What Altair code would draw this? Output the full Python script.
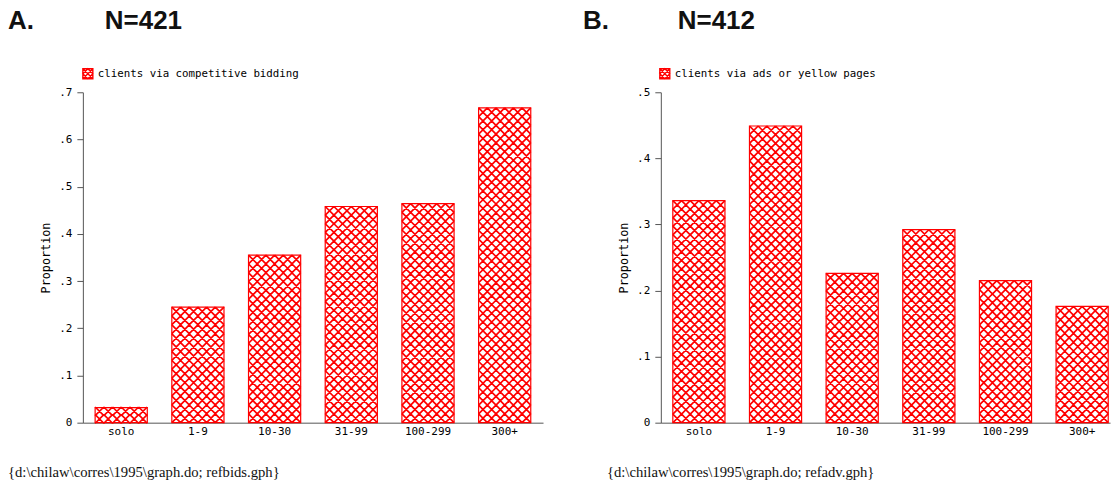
import altair as alt
import pandas as pd

# ---- data ----
categories = ["solo", "1-9", "10-30", "31-99", "100-299", "300+"]
bids = [0.032, 0.245, 0.355, 0.458, 0.464, 0.667]
ads = [0.336, 0.449, 0.226, 0.292, 0.215, 0.176]
series_names = ["clients via competitive bidding", "clients via ads or yellow pages"]
panel_letters = ["A.", "B."]
sample_sizes = [421, 412]
footnotes = [
    "{d:\\chilaw\\corres\\1995\\graph.do; refbids.gph}",
    "{d:\\chilaw\\corres\\1995\\graph.do; refadv.gph}",
]
y_max = [0.7, 0.5]
y_ticks = [[0, 0.1, 0.2, 0.3, 0.4, 0.5, 0.6, 0.7], [0, 0.1, 0.2, 0.3, 0.4, 0.5]]

# ---- style ----
H = 331
WIDTHS = [461, 450]
PAD_OUTER = [0.16, 0.09]
ALIGN = [0.5, 0.87]
BANDW = 52.2            # bar width in px
NCOL = 6                # hatch cells across a bar
CELL = BANDW / NCOL     # hatch cell size in px
LETTER_X = [-75, -78]
N_X = [22, 17]
FOOT_X = [-75, -54]
LEG_X = [0, -1]
MONO = "DejaVu Sans Mono"
AXIS_COL = "#555555"
RED = "#ff0000"
LABEL_EXPR = "datum.value == 0 ? '0' : substring(format(datum.value, '.1f'), 1)"


def row_path(n):
    # one row of n X-shaped cells spanning [-1, 1] horizontally
    h = 1.0 / n
    parts = []
    for j in range(n):
        x0 = -1 + 2.0 * j / n
        x1 = x0 + 2.0 / n
        parts.append(f"M{x0:.4f},{-h:.4f}L{x1:.4f},{h:.4f}M{x0:.4f},{h:.4f}L{x1:.4f},{-h:.4f}")
    return "".join(parts)


ROWPATH = row_path(NCOL)
LEGPATH = "M-1,-1L1,-1L1,1L-1,1ZM-1,-1L1,1M-1,1L1,-1M0,-1L1,0L0,1L-1,0Z"


def panel(i):
    vals = [bids, ads][i]
    w = WIDTHS[i]
    ppu = H / y_max[i]
    df = pd.DataFrame({"category": categories, "value": vals})
    xscale = alt.Scale(domain=categories, paddingInner=0.32,
                       paddingOuter=PAD_OUTER[i], align=ALIGN[i])
    yscale = alt.Scale(domain=[0, y_max[i]], nice=False, zero=True)
    xaxis = alt.Axis(title=None, ticks=False, labelAngle=0, labelPadding=3,
                     labelFont=MONO, labelFontSize=11, labelColor="black",
                     domainColor=AXIS_COL, grid=False)
    yaxis = alt.Axis(title="Proportion", values=y_ticks[i], labelExpr=LABEL_EXPR,
                     tickSize=6, tickColor=AXIS_COL, domainColor=AXIS_COL,
                     labelPadding=5, labelFont=MONO, labelFontSize=11,
                     labelColor="black", titleFont=MONO, titleFontSize=11.8,
                     titleFontWeight="normal", titleColor="black",
                     titlePadding=7, grid=False)

    base = alt.Chart(df)
    x_enc = alt.X("category:N", sort=categories, scale=xscale, axis=xaxis)
    y_enc = alt.Y("value:Q", scale=yscale, axis=yaxis)

    fill_bars = base.mark_bar(color="white", strokeWidth=0).encode(x=x_enc, y=y_enc)

    hatch = (
        base.transform_calculate(
            rows=f"max(1, round(datum.value * {ppu} / {CELL}))"
        )
        .transform_calculate(ks="sequence(0, datum.rows)")
        .transform_flatten(["ks"])
        .transform_calculate(yc="(datum.ks + 0.5) * datum.value / datum.rows")
        .mark_point(shape=ROWPATH, size=BANDW * BANDW, filled=False, color=RED,
                    strokeWidth=1.7, opacity=1)
        .encode(x=x_enc, y=alt.Y("yc:Q", scale=yscale, axis=yaxis))
    )

    outline = base.mark_bar(fillOpacity=0, stroke=RED, strokeWidth=1.2).encode(
        x=x_enc, y=y_enc)

    tdf = pd.DataFrame({"letter": [panel_letters[i]], "n": [f"N={sample_sizes[i]}"],
                        "foot": [footnotes[i]], "series": [series_names[i]]})
    tbase = alt.Chart(tdf)
    letter = tbase.mark_text(align="left", baseline="alphabetic", font="Liberation Sans",
                             fontSize=26, fontWeight="bold", color="#111111").encode(
        x=alt.value(LETTER_X[i]), y=alt.value(-63), text="letter:N")
    ntext = tbase.mark_text(align="left", baseline="alphabetic", font="Liberation Sans",
                            fontSize=26, fontWeight="bold", color="#111111").encode(
        x=alt.value(N_X[i]), y=alt.value(-63), text="n:N")
    foot = tbase.mark_text(align="left", baseline="alphabetic", font="Liberation Serif",
                           fontSize=14.7, color="#111111").encode(
        x=alt.value(FOOT_X[i]), y=alt.value(385), text="foot:N")
    leg_icon = tbase.mark_point(shape=LEGPATH, size=100, filled=False, fill="white",
                                fillOpacity=1, stroke=RED, strokeWidth=1.4,
                                opacity=1).encode(
        x=alt.value(LEG_X[i] + 5), y=alt.value(-18.5))
    leg_text = tbase.mark_text(align="left", baseline="middle", font=MONO,
                               fontSize=10.8, color="black").encode(
        x=alt.value(LEG_X[i] + 15), y=alt.value(-18.5), text="series:N")

    return alt.layer(fill_bars, hatch, outline, letter, ntext, foot,
                     leg_icon, leg_text).properties(width=w, height=H)


chart = (
    alt.hconcat(panel(0), panel(1), spacing=40)
    .resolve_scale(x="independent", y="independent")
    .properties(padding=0)
    .configure_view(strokeWidth=0)
)

chart.save("out.html", embed_options={"renderer": "svg", "actions": False})
